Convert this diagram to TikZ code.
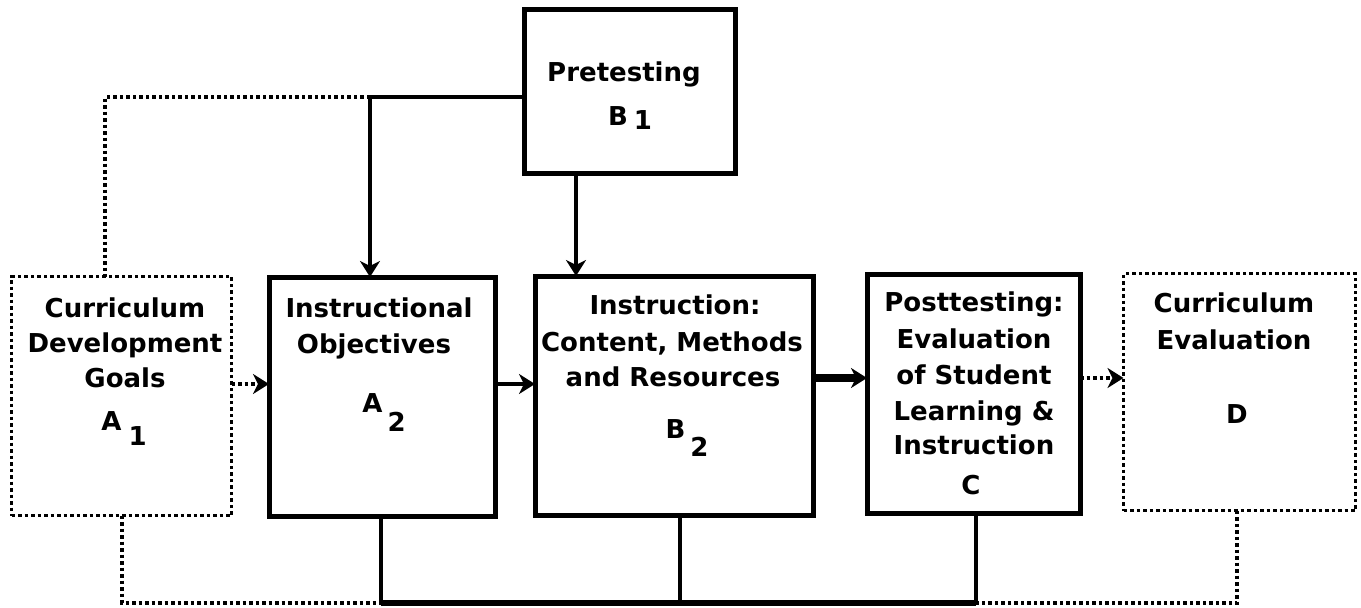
\documentclass[tikz,border=0pt]{standalone}
\usepackage{fontspec}
\setmainfont{DejaVu Sans}
\usetikzlibrary{arrows.meta}
\newcommand{\lowidx}[2]{\raisebox{-#1}{#2}}
\begin{document}
\begin{tikzpicture}[x=1pt,y=-1pt,
  solidbox/.style={draw, line width=5pt, inner sep=0pt, outer sep=0pt},
  dotbox/.style={draw, line width=3.5pt, dash pattern=on 3.5pt off 3pt, inner sep=0pt, outer sep=0pt},
  txt/.style={font=\fontsize{26}{30}\selectfont\bfseries, inner sep=0pt, anchor=base},
  sol/.style={line width=4.5pt},
  thicksol/.style={line width=8pt},
  dotl/.style={line width=3.5pt, dash pattern=on 3.5pt off 3pt},
  tip/.style={-{Stealth[length=16pt,width=20pt,inset=5pt]}},
]
\useasboundingbox (0,0) rectangle (1361,608);
\fill[white] (0,0) rectangle (1361,608);

% boxes
\node[dotbox,   minimum width=220pt, minimum height=239pt] (A1) at (121.5,396) {};
\node[solidbox, minimum width=226pt, minimum height=239pt] (A2) at (382,396.5) {};
\node[solidbox, minimum width=278pt, minimum height=239pt] (B2) at (674,395.5) {};
\node[solidbox, minimum width=213pt, minimum height=239pt] (C)  at (973.5,393.5) {};
\node[dotbox,   minimum width=232pt, minimum height=237pt] (D)  at (1239.5,392) {};
\node[solidbox, minimum width=211pt, minimum height=164pt] (B1) at (629.5,91) {};

% texts
\node[txt] (a1t1) at (125,317) {Curriculum};
\node[txt] (a1t2) at (125,352) {Development};
\node[txt] (a1t3) at (125,387) {Goals};
\node[txt] (a1t4) at (124,430) {A\hspace{7pt}\lowidx{15pt}{1}};

\node[txt] (a2t1) at (379,317) {Instructional};
\node[txt] (a2t2) at (374,353) {Objectives};
\node[txt] (a2t3) at (384,412) {A\hspace{5pt}\lowidx{19pt}{2}};

\node[txt] (b2t1) at (675,314) {Instruction:};
\node[txt] (b2t2) at (672,351) {Content, Methods};
\node[txt] (b2t3) at (673,386) {and Resources};
\node[txt] (b2t4) at (687,438) {B\hspace{5pt}\lowidx{18pt}{2}};

\node[txt] (ct1) at (974,311) {Posttesting:};
\node[txt] (ct2) at (974,348) {Evaluation};
\node[txt] (ct3) at (974,384) {of Student};
\node[txt] (ct4) at (974,420) {Learning \&};
\node[txt] (ct5) at (974,454) {Instruction};
\node[txt] (ct6) at (971,494) {C};

\node[txt] (dt1) at (1234,312) {Curriculum};
\node[txt] (dt2) at (1234,349) {Evaluation};
\node[txt] (dt3) at (1237,423) {D};

\node[txt] (b1t1) at (624,81) {Pretesting};
\node[txt] (b1t2) at (630,125) {B\hspace{6pt}\lowidx{4pt}{1}};

% helper coordinates
\coordinate (ya) at (0,384);
\coordinate (yb) at (0,378);
\coordinate (ytop) at (0,97);
\coordinate (ybot) at (0,603);
\coordinate (jA) at (370,97);
\coordinate (xd1) at (105,0);
\coordinate (xb) at (576,0);
\coordinate (xa1) at (122,0);
\coordinate (xa2) at (381,0);
\coordinate (xb2) at (680,0);
\coordinate (xc) at (976,0);
\coordinate (xd) at (1237,0);

% top connectors
\draw[sol] (B1.west |- ytop) -- (jA);
\draw[sol,tip] (jA) -- (jA |- A2.north);
\draw[dotl] (jA) -| (xd1 |- A1.north);
\draw[sol,tip] (xb |- B1.south) -- (xb |- B2.north);

% middle connectors
\draw[dotl,tip] (A1.east |- ya) -- (A2.west |- ya);
\draw[sol,tip] (A2.east |- ya) -- (B2.west |- ya);
\draw[thicksol,tip] (B2.east |- yb) -- (C.west |- yb);
\draw[dotl,tip] (C.east |- yb) -- (D.west |- yb);

% bottom connectors
\draw[dotl] (xa1 |- A1.south) |- (xa2 |- ybot);
\draw[sol] (xa2 |- A2.south) -- (xa2 |- ybot);
\draw[sol] (xb2 |- B2.south) -- (xb2 |- ybot);
\draw[sol] (xc |- C.south) -- (xc |- ybot);
\draw[line width=5.5pt] (xa2 |- ybot) -- (xc |- ybot);
\draw[dotl] (xd |- D.south) |- (xc |- ybot);
\end{tikzpicture}
\end{document}
